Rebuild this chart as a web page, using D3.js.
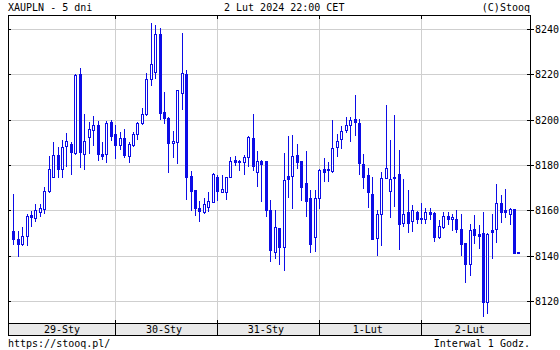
<!DOCTYPE html>
<html>
<head>
<meta charset="utf-8">
<script src="https://cdn.jsdelivr.net/npm/d3@7"></script>
<style>
  html, body { margin: 0; padding: 0; background: #ffffff; }
  svg { display: block; }
  text { font-family: "DejaVu Sans Mono", "Liberation Mono", monospace; font-size: 10px; fill: #000; }
</style>
</head>
<body>
<svg id="chart" width="560" height="350"></svg>
<script>
// ---- data (hourly candles, XAUPLN, 5 days) ----
const openV = [8150.9,8147.4,8145.3,8148.7,8157.8,8156.8,8159.4,8160.4,8168.4,8174.9,8184.4,8178.1,8188.5,8189.3,8185.3,8220.0,8184.7,8192.2,8195.3,8197.6,8184.9,8184.7,8198.8,
8193.7,8188.8,8191.8,8184.1,8188.8,8193.7,8198.4,8202.4,8217.8,8221.2,8237.6,8203.4,8200.6,8189.6,8190.0,8211.6,8220.0,8175.0,8168.8,8160.9,8159.4,8161.5,8163.5,
8174.6,8168.2,8168.2,8174.9,8182.1,8181.8,8181.2,8183.7,8191.8,8176.8,8181.9,8181.9,8160.1,8141.5,8152.1,8143.7,8175.0,8175.3,8184.4,8181.9,8171.9,8165.4,8148.4,
8165.6,8178.2,8178.4,8177.4,8188.1,8191.5,8195.6,8197.5,8200.1,8198.4,8180.4,8175.4,8167.2,8147.6,8158.4,8174.1,8168.7,8174.7,8175.9,8154.3,8159.4,8155.3,8159.1,
8156.6,8156.3,8159.3,8159.0,8148.4,8152.8,8157.4,8156.0,8156.0,8151.6,8145.4,8136.5,8151.6,8149.6,8150.0,8119.6,8151.2,8151.6,8163.1,8160.3,8158.5,8160.6,8141.5];
const highV = [8167.2,8150.9,8152.6,8158.4,8159.9,8162.8,8162.9,8170.1,8184.0,8190.3,8188.1,8191.2,8194.3,8190.0,8220.0,8222.9,8202.5,8199.1,8201.8,8199.4,8190.3,8199.4,8199.7,
8197.6,8194.4,8195.8,8190.3,8194.4,8198.8,8205.0,8220.4,8242.5,8241.8,8240.3,8212.1,8201.3,8195.1,8213.2,8238.1,8221.9,8177.4,8168.8,8164.1,8165.3,8167.9,8176.6,
8175.6,8175.4,8174.9,8183.5,8184.1,8182.4,8184.3,8193.0,8202.5,8186.2,8182.2,8181.9,8164.6,8160.1,8152.1,8185.1,8192.8,8193.2,8189.3,8181.9,8186.2,8169.0,8169.0,
8178.2,8182.9,8181.5,8199.7,8193.5,8197.2,8201.0,8201.0,8210.9,8200.1,8184.7,8178.5,8174.6,8160.1,8177.1,8206.5,8191.0,8202.1,8186.6,8173.7,8169.0,8162.4,8159.7,
8163.1,8161.2,8161.2,8159.3,8155.7,8159.1,8159.1,8158.2,8160.0,8158.4,8145.4,8153.8,8158.0,8153.5,8159.4,8150.0,8158.2,8171.5,8166.8,8169.4,8161.2,8160.6,8141.5];
const lowV = [8145.3,8139.7,8144.7,8144.7,8153.1,8155.3,8157.5,8158.8,8168.2,8174.6,8174.9,8174.7,8179.7,8176.2,8185.0,8179.3,8178.4,8185.3,8189.0,8182.2,8182.5,8181.5,8191.0,
8183.2,8187.1,8183.7,8181.5,8188.5,8191.3,8198.2,8202.1,8215.4,8218.2,8200.1,8198.4,8177.1,8183.7,8181.0,8204.6,8164.9,8160.1,8157.8,8155.1,8158.7,8159.7,8163.5,
8164.4,8167.9,8164.9,8174.6,8180.0,8177.8,8175.9,8179.7,8177.8,8170.7,8164.3,8157.6,8137.6,8138.8,8136.2,8133.8,8166.0,8161.2,8178.8,8164.6,8157.6,8141.8,8142.2,
8160.9,8173.1,8173.1,8176.8,8184.1,8187.4,8194.7,8190.7,8193.2,8176.2,8169.7,8161.6,8147.2,8140.3,8144.7,8174.1,8156.9,8161.9,8142.8,8152.9,8150.3,8150.9,8154.3,
8154.3,8154.6,8156.2,8146.5,8147.9,8152.1,8153.8,8151.3,8150.6,8140.3,8128.2,8131.5,8145.4,8143.2,8113.5,8114.9,8139.1,8145.9,8155.0,8156.9,8154.0,8141.0,8141.5];
const closeV = [8147.2,8145.3,8148.7,8157.4,8157.2,8160.0,8160.9,8168.4,8178.2,8184.4,8178.1,8187.8,8190.6,8185.6,8219.6,8185.9,8190.6,8195.7,8197.6,8184.7,8184.1,8198.5,8192.9,
8189.0,8191.8,8184.4,8189.1,8193.7,8198.4,8202.4,8217.8,8224.4,8237.6,8203.1,8200.6,8189.6,8190.6,8213.2,8220.4,8174.9,8168.5,8161.2,8159.9,8162.6,8164.1,8175.9,
8168.7,8169.4,8174.9,8181.9,8181.3,8181.2,8183.5,8192.4,8179.7,8181.9,8180.6,8160.3,8142.4,8152.6,8143.7,8173.5,8174.0,8184.0,8181.5,8170.4,8164.3,8145.3,8165.4,
8177.8,8176.8,8177.6,8187.4,8190.6,8194.9,8197.5,8199.9,8198.8,8180.7,8174.9,8167.9,8147.2,8158.2,8174.1,8178.5,8173.7,8174.1,8153.8,8158.2,8154.3,8160.3,8156.0,
8156.0,8159.1,8158.5,8148.4,8153.1,8157.5,8156.0,8157.1,8151.8,8145.3,8136.5,8151.3,8149.0,8148.8,8119.6,8149.7,8150.6,8163.1,8159.4,8159.4,8160.4,8141.0,8141.5];

const dayLabels = ["29-Sty", "30-Sty", "31-Sty", "1-Lut", "2-Lut"];
const candlesPerDay = 23;
const yTicks = [8120, 8140, 8160, 8180, 8200, 8220, 8240];
const titleLeft = "XAUPLN - 5 dni";
const titleCenter = "2 Lut 2024 22:00 CET";
const titleRight = "(C)Stooq";
const footLeft = "https://stooq.pl/";
const footRight = "Interwal 1 Godz.";

// ---- layout ----
const L = 8, R = 530, T = 15, B = 323, BAND = 12;
const blue = "#0c0ce6";
const svg = d3.select("#chart");

const n = openV.length;
const x = d3.scaleLinear().domain([-1.2, 116.6]).range([L, R]);
const y = d3.scaleLinear().domain([8120, 8240]).range([301, 29]);
const px = i => Math.round(x(i));

// grid
const g = svg.append("g");
g.selectAll("line.hg").data(yTicks).join("line")
  .attr("x1", L).attr("x2", R)
  .attr("y1", d => Math.round(y(d)) + 0.5).attr("y2", d => Math.round(y(d)) + 0.5)
  .attr("stroke", "#cfcfcf").attr("stroke-width", 1);
const bounds = d3.range(1, dayLabels.length).map(k => k * candlesPerDay);
g.selectAll("line.vg").data(bounds).join("line")
  .attr("x1", d => px(d) + 0.5).attr("x2", d => px(d) + 0.5)
  .attr("y1", T).attr("y2", B)
  .attr("stroke", "#cfcfcf").attr("stroke-width", 1);

// candles
const data = d3.range(n).map(i => ({i, o: openV[i], h: highV[i], l: lowV[i], c: closeV[i]}));
const cg = svg.append("g");
cg.selectAll("line.wick").data(data).join("line")
  .attr("x1", d => px(d.i) + 0.5).attr("x2", d => px(d.i) + 0.5)
  .attr("y1", d => Math.round(y(d.h))).attr("y2", d => Math.round(y(d.l)) + 1)
  .attr("stroke", blue).attr("stroke-width", 1);
cg.selectAll("rect.body").data(data).join("rect")
  .attr("x", d => d.c < d.o ? px(d.i) - 1 : px(d.i) - 0.5)
  .attr("width", d => d.c < d.o ? 3 : 2)
  .attr("y", d => {
    const top = Math.round(y(Math.max(d.o, d.c)));
    return d.c < d.o ? top : top + 0.5;
  })
  .attr("height", d => {
    const h = Math.round(y(Math.min(d.o, d.c))) - Math.round(y(Math.max(d.o, d.c)));
    return d.c < d.o ? Math.max(1, h + 1) : Math.max(1, h);
  })
  .attr("fill", d => d.c < d.o ? blue : "#ffffff")
  .attr("stroke", d => d.c < d.o ? "none" : blue)
  .attr("stroke-width", 1);

// frame
svg.append("rect").attr("x", L + 0.5).attr("y", T + 0.5).attr("width", R - L).attr("height", B - T)
  .attr("fill", "none").attr("stroke", "#000");
svg.append("rect").attr("x", L + 0.5).attr("y", B + 0.5).attr("width", R - L).attr("height", BAND)
  .attr("fill", "#e9e9e9").attr("stroke", "#000");

// day ticks top and bottom
svg.selectAll("line.tt").data(bounds).join("line")
  .attr("x1", d => px(d) + 0.5).attr("x2", d => px(d) + 0.5)
  .attr("y1", T).attr("y2", T + 4).attr("stroke", "#000");
svg.selectAll("line.bt").data(bounds).join("line")
  .attr("x1", d => px(d) + 0.5).attr("x2", d => px(d) + 0.5)
  .attr("y1", B - 3).attr("y2", B + BAND).attr("stroke", "#000");

// y ticks
svg.selectAll("line.lt").data(yTicks).join("line")
  .attr("x1", L).attr("x2", L + 3)
  .attr("y1", d => Math.round(y(d)) + 0.5).attr("y2", d => Math.round(y(d)) + 0.5)
  .attr("stroke", "#000");
svg.selectAll("line.rt").data(yTicks).join("line")
  .attr("x1", R - 3).attr("x2", R + 4)
  .attr("y1", d => Math.round(y(d)) + 0.5).attr("y2", d => Math.round(y(d)) + 0.5)
  .attr("stroke", "#000");
svg.selectAll("text.yl").data(yTicks).join("text")
  .attr("x", R + 5).attr("y", d => Math.round(y(d)) + 4)
  .text(d => d);

// day labels
svg.selectAll("text.dl").data(dayLabels).join("text")
  .attr("x", (d, k) => x(k * candlesPerDay + 11))
  .attr("y", B + 10)
  .attr("text-anchor", "middle")
  .text(d => d);

// titles
svg.append("text").attr("x", 8).attr("y", 11).text(titleLeft);
svg.append("text").attr("x", 224).attr("y", 11).text(titleCenter);
svg.append("text").attr("x", 530).attr("y", 11).attr("text-anchor", "end").text(titleRight);
svg.append("text").attr("x", 8).attr("y", 347).text(footLeft);
svg.append("text").attr("x", 530).attr("y", 347).attr("text-anchor", "end").text(footRight);
</script>
</body>
</html>
